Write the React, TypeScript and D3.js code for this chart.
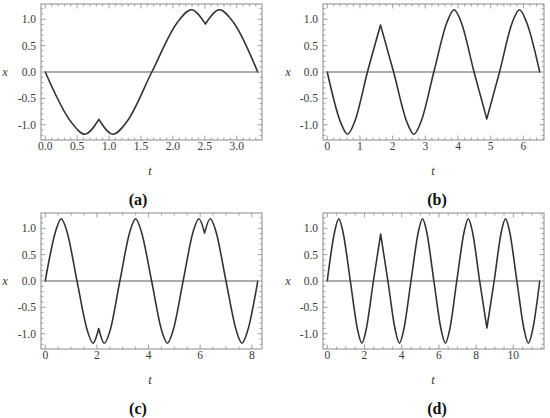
import React from "react";
import * as d3 from "d3";

// ---- data ----
const tA = [0, 0.4, 0.62, 0.84, 1.06, 1.28, 1.67, 2.07, 2.29, 2.51, 2.73, 2.95, 3.33];
const xA = [0, -0.94, -1.18, -0.9, -1.18, -0.94, 0, 0.94, 1.18, 0.91, 1.18, 0.94, 0];
const cuspA = [3, 9];

const tB = [0, 0.4, 0.62, 0.84, 1.23, 1.63, 2.03, 2.43, 2.65, 2.87, 3.26, 3.66, 3.88, 4.1, 4.49, 4.88, 5.27, 5.66, 5.88, 6.1, 6.5];
const xB = [0, -0.94, -1.18, -0.94, 0, 0.89, 0, -0.94, -1.18, -0.94, 0, 0.94, 1.18, 0.94, 0, -0.89, 0, 0.94, 1.18, 0.94, 0];
const cuspB = [5, 15];

const tC = [0, 0.4, 0.62, 0.84, 1.23, 1.63, 1.85, 2.07, 2.29, 2.51, 2.89, 3.28, 3.5, 3.72, 4.12, 4.51, 4.73, 4.95, 5.34, 5.73, 5.95, 6.17, 6.39, 6.61, 7.0, 7.4, 7.62, 7.84, 8.23];
const xC = [0, 0.94, 1.18, 0.94, 0, -0.94, -1.18, -0.9, -1.18, -0.94, 0, 0.94, 1.18, 0.94, 0, -0.94, -1.18, -0.94, 0, 0.94, 1.18, 0.91, 1.18, 0.94, 0, -0.94, -1.18, -0.94, 0];
const cuspC = [7, 21];

const tD = [0, 0.4, 0.62, 0.84, 1.24, 1.64, 1.86, 2.08, 2.48, 2.87, 3.26, 3.66, 3.88, 4.1, 4.5, 4.9, 5.12, 5.34, 5.73, 6.13, 6.35, 6.57, 6.96, 7.36, 7.58, 7.8, 8.19, 8.58, 8.97, 9.36, 9.58, 9.8, 10.19, 10.59, 10.81, 11.03, 11.42];
const xD = [0, 0.94, 1.18, 0.94, 0, -0.94, -1.18, -0.94, 0, 0.89, 0, -0.94, -1.18, -0.94, 0, 0.94, 1.18, 0.94, 0, -0.94, -1.18, -0.94, 0, 0.94, 1.18, 0.94, 0, -0.89, 0, 0.94, 1.18, 0.94, 0, -0.94, -1.18, -0.94, 0];
const cuspD = [9, 27];

const yTicks = [-1.0, -0.5, 0.0, 0.5, 1.0];
const yTickLabels = ["-1.0", "-0.5", "0.0", "0.5", "1.0"];
const xTicksA = [0, 0.5, 1, 1.5, 2, 2.5, 3];
const xTickLabelsA = ["0.0", "0.5", "1.0", "1.5", "2.0", "2.5", "3.0"];
const xTicksB = [0, 1, 2, 3, 4, 5, 6];
const xTicksC = [0, 2, 4, 6, 8];
const xTicksD = [0, 2, 4, 6, 8, 10];
const panelLabels = ["(a)", "(b)", "(c)", "(d)"];

const FONT = "'Liberation Serif', 'Times New Roman', serif";

type Cfg = {
  t: number[];
  x: number[];
  cusps: number[];
  ticks: number[];
  tickLabels: string[];
  minorStep: number;
  label: string;
  col: number;
  row: number;
};

const panels: Cfg[] = [
  { t: tA, x: xA, cusps: cuspA, ticks: xTicksA, tickLabels: xTickLabelsA, minorStep: 0.1, label: panelLabels[0], col: 0, row: 0 },
  { t: tB, x: xB, cusps: cuspB, ticks: xTicksB, tickLabels: xTicksB.map(String), minorStep: 0.2, label: panelLabels[1], col: 1, row: 0 },
  { t: tC, x: xC, cusps: cuspC, ticks: xTicksC, tickLabels: xTicksC.map(String), minorStep: 0.5, label: panelLabels[2], col: 0, row: 1 },
  { t: tD, x: xD, cusps: cuspD, ticks: xTicksD, tickLabels: xTicksD.map(String), minorStep: 0.5, label: panelLabels[3], col: 1, row: 1 },
];

function Panel({ cfg }: { cfg: Cfg }) {
  const oy = cfg.row * 209;
  const left = cfg.col === 0 ? 41 : 323;
  const right = cfg.col === 0 ? 262 : 544;
  const top = oy + 4;
  const bottom = oy + 140;
  const L = cfg.t[cfg.t.length - 1];
  const xs = d3.scaleLinear().domain([-0.02 * L, 1.02 * L]).range([left, right]);
  const ys = d3.scaleLinear().domain([-1.29, 1.29]).range([bottom, top]);

  const pts: [number, number][] = cfg.t.map((tv, i) => [tv, cfg.x[i]]);
  const breaks = [0, ...cfg.cusps, pts.length - 1];
  const line = d3
    .line<[number, number]>()
    .x((d) => xs(d[0]))
    .y((d) => ys(d[1]))
    .curve(d3.curveMonotoneX);
  const dPath = breaks
    .slice(0, -1)
    .map((b, i) => line(pts.slice(b, breaks[i + 1] + 1)) || "")
    .join("");

  const frameCol = "#8a8a8a";
  const majLen = 4.5;
  const minLen = 2.5;
  const isMajorY = (v: number) => Math.abs(v * 2 - Math.round(v * 2)) < 1e-6;
  const yMinor = d3.range(-12, 13).map((k) => k / 10).filter((v) => !isMajorY(v));
  const xMax = 1.02 * L;
  const xMinor = d3
    .range(0, Math.floor(xMax / cfg.minorStep + 1e-6) + 1)
    .map((k) => +(k * cfg.minorStep).toFixed(6))
    .filter((v) => !cfg.ticks.some((m) => Math.abs(m - v) < 1e-6));

  const tickLines: JSX.Element[] = [];
  const addY = (v: number, len: number, key: string) => {
    const yy = ys(v);
    tickLines.push(<line key={"yl" + key} x1={left} x2={left + len} y1={yy} y2={yy} />);
    tickLines.push(<line key={"yr" + key} x1={right} x2={right - len} y1={yy} y2={yy} />);
  };
  const addX = (v: number, len: number, key: string) => {
    const xx = xs(v);
    tickLines.push(<line key={"xb" + key} x1={xx} x2={xx} y1={bottom} y2={bottom - len} />);
    tickLines.push(<line key={"xt" + key} x1={xx} x2={xx} y1={top} y2={top + len} />);
  };
  yTicks.forEach((v, i) => addY(v, majLen, "M" + i));
  yMinor.forEach((v, i) => addY(v, minLen, "m" + i));
  cfg.ticks.forEach((v, i) => addX(v, majLen, "M" + i));
  xMinor.forEach((v, i) => addX(v, minLen, "m" + i));

  const labelRight = left - 5;
  const panelCx = cfg.col === 0 ? 138 : 437;
  const tCx = cfg.col === 0 ? 150 : 433;
  const xLabelX = cfg.col === 0 ? 5 : 288;

  return (
    <g>
      <line x1={xs(0)} x2={xs(L)} y1={ys(0)} y2={ys(0)} stroke="#5a5a5a" strokeWidth={1.1} />
      <path d={dPath} fill="none" stroke="#333" strokeWidth={1.6} strokeLinecap="round" strokeLinejoin="round" />
      <rect x={left} y={top} width={right - left} height={bottom - top} fill="none" stroke={frameCol} strokeWidth={1} />
      <g stroke={frameCol} strokeWidth={0.8}>{tickLines}</g>
      <g fontFamily={FONT} fontSize={11.5} fill="#3a3a3a">
        {yTicks.map((v, i) => (
          <text key={"yt" + i} x={labelRight} y={ys(v)} textAnchor="end" dominantBaseline="central">
            {yTickLabels[i]}
          </text>
        ))}
        {cfg.ticks.map((v, i) => (
          <text key={"xt" + i} x={xs(v)} y={bottom + 10} textAnchor="middle">
            {cfg.tickLabels[i]}
          </text>
        ))}
      </g>
      <text x={xLabelX} y={ys(0)} fontFamily={FONT} fontStyle="italic" fontSize={12.5} fill="#3a3a3a" textAnchor="middle" dominantBaseline="central">
        x
      </text>
      <text x={tCx} y={oy + 175} fontFamily={FONT} fontStyle="italic" fontSize={12.5} fill="#3a3a3a" textAnchor="middle">
        t
      </text>
      <text x={panelCx} y={oy + 205} fontFamily={FONT} fontWeight="bold" fontSize={16} fill="#111" textAnchor="middle">
        {cfg.label}
      </text>
    </g>
  );
}

export default function App() {
  return (
    <svg
      width={550}
      height={418}
      viewBox="0 0 550 418"
      style={{ position: "absolute", left: 0, top: 0, display: "block", background: "#fff" }}
    >
      {panels.map((p, i) => (
        <Panel key={i} cfg={p} />
      ))}
    </svg>
  );
}
